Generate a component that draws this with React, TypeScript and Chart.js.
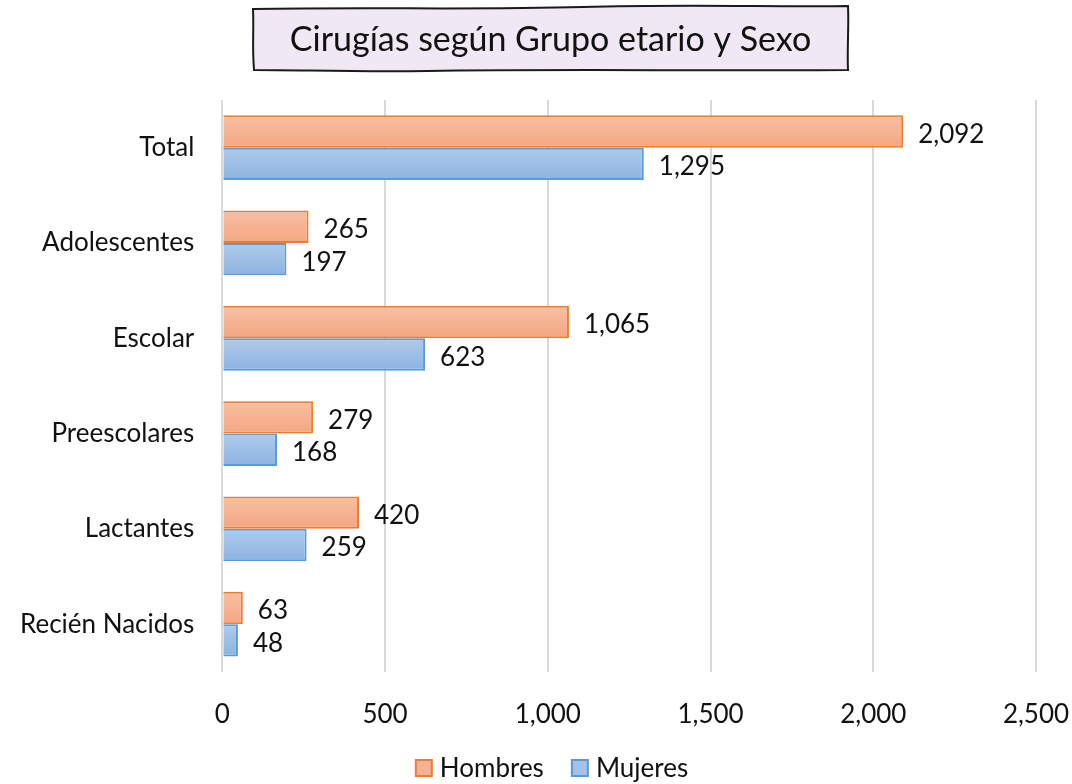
import React, { useEffect, useRef } from "react";
import { Chart, registerables } from "chart.js";

Chart.register(...registerables);

const categories = ["Total", "Adolescentes", "Escolar", "Preescolares", "Lactantes", "Recién Nacidos"];
const hombres = [2092, 265, 1065, 279, 420, 63];
const mujeres = [1295, 197, 623, 168, 259, 48];
const seriesNames = ["Hombres", "Mujeres"];
const titleText = "Cirugías según Grupo etario y Sexo";
const xMax = 2500;
const xStep = 500;

const FONT = "Lato";
const FS = 26;

const fmt = (v: number) => v.toLocaleString("en-US");

const legendFill = ["#F5B194", "#A2C2E7"];
const legendStroke = ["#ED7D31", "#5B9BD5"];

function gradientFor(top: string, bottom: string) {
  return (ctx: any) => {
    const chart = ctx.chart;
    const meta = chart.getDatasetMeta(ctx.datasetIndex);
    const el: any = meta && meta.data ? meta.data[ctx.dataIndex] : null;
    if (!el || typeof el.y !== "number" || isNaN(el.y) || !el.height) return top;
    const g = chart.ctx.createLinearGradient(0, el.y - el.height / 2, 0, el.y + el.height / 2);
    g.addColorStop(0, top);
    g.addColorStop(1, bottom);
    return g;
  };
}

const titlePlugin = {
  id: "sketchTitle",
  beforeDraw(chart: any) {
    const c = chart.ctx;
    c.save();
    const x0 = 253, x1 = 848, y0 = 6, y1 = 70;
    c.beginPath();
    c.moveTo(x0, y0 + 3);
    c.bezierCurveTo(x0 + 120, y0 + 1, x0 + 220, y0 + 4, x0 + 330, y0 + 1);
    c.bezierCurveTo(x0 + 430, y0 - 2, x0 + 520, y0 + 1, x1, y0);
    c.bezierCurveTo(x1 + 1, y0 + 20, x1 - 1, y0 + 45, x1, y1);
    c.bezierCurveTo(x1 - 150, y1 + 1, x1 - 300, y1 - 1, x1 - 420, y1 + 1);
    c.bezierCurveTo(x0 + 100, y1 + 2, x0 + 50, y1, x0 + 1, y1);
    c.bezierCurveTo(x0 - 1, y1 - 25, x0 + 1, y0 + 25, x0, y0 + 3);
    c.closePath();
    c.fillStyle = "#F1E8F6";
    c.fill();
    c.lineWidth = 2;
    c.strokeStyle = "#1a1a1a";
    c.stroke();
    c.fillStyle = "#111";
    c.font = `34px ${FONT}`;
    c.textAlign = "center";
    c.textBaseline = "middle";
    c.fillText(titleText, (x0 + x1) / 2, (y0 + y1) / 2 + 2);
    c.restore();
  },
};

const valueLabelPlugin = {
  id: "valueLabels",
  afterDatasetsDraw(chart: any) {
    const c = chart.ctx;
    c.save();
    c.font = `${FS}px ${FONT}`;
    c.fillStyle = "#111";
    c.textAlign = "left";
    c.textBaseline = "middle";
    chart.data.datasets.forEach((ds: any, di: number) => {
      const meta = chart.getDatasetMeta(di);
      meta.data.forEach((el: any, i: number) => {
        c.fillText(fmt(ds.data[i]), el.x + 15, el.y + 3);
      });
    });
    c.restore();
  },
};

const legendPlugin = {
  id: "customLegend",
  afterDraw(chart: any) {
    const c = chart.ctx;
    c.save();
    c.font = `${FS}px ${FONT}`;
    c.textBaseline = "middle";
    c.textAlign = "left";
    const box = 16, gapText = 8, gapItem = 28;
    const widths = seriesNames.map((n) => c.measureText(n).width);
    const total = widths.reduce((a, w) => a + box + gapText + w, 0) + gapItem * (seriesNames.length - 1);
    let x = 552 - total / 2;
    const cy = 768;
    seriesNames.forEach((n, i) => {
      c.fillStyle = legendFill[i];
      c.fillRect(x, cy - box / 2, box, box);
      c.lineWidth = 2;
      c.strokeStyle = legendStroke[i];
      c.strokeRect(x, cy - box / 2, box, box);
      c.fillStyle = "#111";
      c.fillText(n, x + box + gapText, cy + 1);
      x += box + gapText + widths[i] + gapItem;
    });
    c.restore();
  },
};

export default function App() {
  const ref = useRef<HTMLCanvasElement>(null);
  useEffect(() => {
    let chart: any = null;
    let cancelled = false;
    const make = () => {
      if (cancelled || !ref.current) return;
      chart = new Chart(ref.current, {
        type: "bar",
        data: {
          labels: categories,
          datasets: [
            {
              label: seriesNames[0],
              data: hombres,
              backgroundColor: gradientFor("#F8C0A3", "#F3A682"),
              borderColor: "#ED7D31",
              borderWidth: 2,
              categoryPercentage: 0.68,
              barPercentage: 1,
            },
            {
              label: seriesNames[1],
              data: mujeres,
              backgroundColor: gradientFor("#AECBEA", "#8DB3E2"),
              borderColor: "#5B9BD5",
              borderWidth: 2,
              categoryPercentage: 0.68,
              barPercentage: 1,
            },
          ],
        },
        options: {
          indexAxis: "y",
          responsive: false,
          animation: false,
          layout: { padding: { top: 100, left: -8, right: 0, bottom: 27 } },
          scales: {
            x: {
              min: 0,
              max: xMax,
              ticks: {
                stepSize: xStep,
                font: { family: FONT, size: FS },
                color: "#111",
                padding: 27,
                callback: (v: any) => fmt(Number(v)),
              },
              grid: { color: "#D9D9D9", lineWidth: 2, drawTicks: false },
              border: { display: false },
              afterFit: (scale: any) => {
                scale.paddingRight = 36;
              },
            },
            y: {
              ticks: { font: { family: FONT, size: FS }, color: "#111", padding: 28 },
              grid: { display: false, drawTicks: false },
              border: { display: false },
            },
          },
          plugins: {
            title: { display: false },
            tooltip: { enabled: false },
            legend: { display: false },
          },
        },
        plugins: [titlePlugin, valueLabelPlugin, legendPlugin],
      } as any);
      chart.update();
    };
    const fonts: any = (document as any).fonts;
    if (fonts && fonts.load) {
      Promise.all([fonts.load(`${FS}px ${FONT}`), fonts.load(`34px ${FONT}`)])
        .then(make, make);
    } else {
      make();
    }
    return () => {
      cancelled = true;
      if (chart) chart.destroy();
    };
  }, []);
  return (
    <div style={{ position: "fixed", left: 0, top: 0, width: 1072, height: 784, background: "#fff" }}>
      <canvas ref={ref} width={1072} height={784} style={{ width: 1072, height: 784 }} />
    </div>
  );
}
